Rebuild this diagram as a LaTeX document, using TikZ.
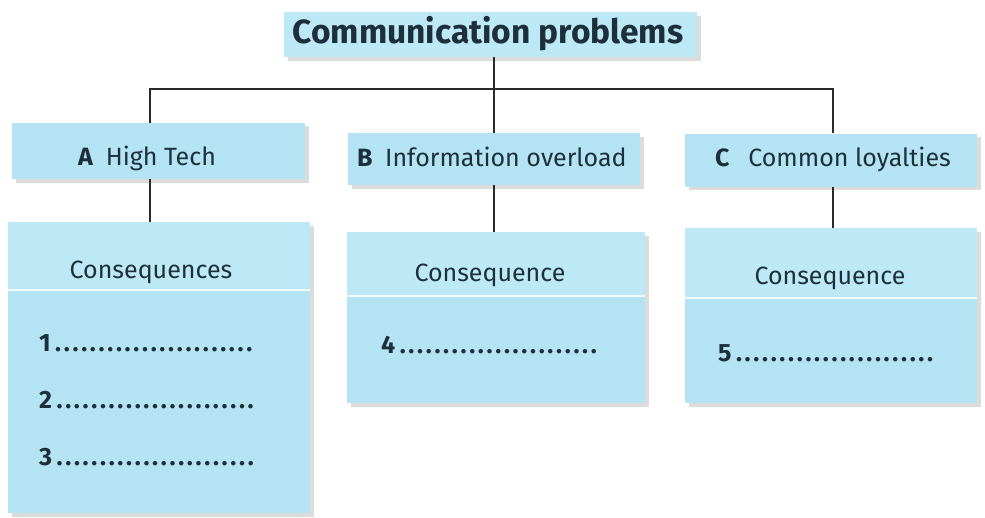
\documentclass[tikz,border=0pt]{standalone}
\usepackage{fontspec}
\setmainfont{Fira Sans}
\begin{document}
\definecolor{boxfill}{HTML}{B4E4F3}
\definecolor{headfill}{HTML}{BDE9F7}
\definecolor{ink}{HTML}{1E2F3C}
\definecolor{rule}{HTML}{2A2A2A}
\newcommand{\answerline}[1]{\textbf{#1}\hspace{3pt}\hbox to 200pt{\xleaders\hbox to 8.5pt{\hss\textbf{.}\hss}\hfill}}
\begin{tikzpicture}[x=1pt,y=-1pt,
  panel/.style={rectangle, fill=boxfill, inner sep=0pt},
  shade/.style={fill=black!30, opacity=0.45},
  lbl/.style={inner sep=0pt, text=ink, anchor=base, font=\fontsize{25}{28}\selectfont},
  conn/.style={draw=rule, line width=1.1pt}]
\useasboundingbox (0,0) rectangle (985,517);

% title
\fill[shade] (288,16) rectangle (701,61);
\node[panel, fill=headfill, minimum width=413pt, minimum height=45pt] (title) at (490.5,34.5) {};
\node[lbl, font=\fontsize{33.5}{38}\selectfont\bfseries] (titletxt) at (488,43) {Communication problems};

% problem boxes
\fill[shade] (16,126) rectangle (309,183);
\node[panel, minimum width=293pt, minimum height=56pt] (A) at (158.5,151) {};
\node[lbl, anchor=base west] (Atxt) at (78,165) {\textbf{A}\enspace High Tech};

\fill[shade] (352,137) rectangle (644,189);
\node[panel, minimum width=292pt, minimum height=52pt] (B) at (494,159) {};
\node[lbl, anchor=base west] (Btxt) at (357,166) {\textbf{B}\enspace Information overload};

\fill[shade] (689,137) rectangle (981,190);
\node[panel, minimum width=292pt, minimum height=53pt] (C) at (831,160) {};
\node[lbl, anchor=base west] (Ctxt) at (715,166) {\textbf{C}\hspace{0.75em}Common loyalties};

% consequence boxes
\fill[shade] (12,226) rectangle (314,517);
\node[panel, minimum width=302pt, minimum height=291pt] (cA) at (159,367.5) {};
\fill[headfill] (cA.north west) rectangle (310,290);
\draw[white, line width=1.5pt, opacity=0.8] (cA.west |- 0,290) -- (cA.east |- 0,290);
\node[lbl] (cAhead) at (151,278) {Consequences};
\node[lbl, anchor=base west] (a1) at (39,351) {\answerline{1}};
\node[lbl, anchor=base west] (a2) at (39,408) {\answerline{2}};
\node[lbl, anchor=base west] (a3) at (39,465) {\answerline{3}};

\fill[shade] (351,236) rectangle (649,407);
\node[panel, minimum width=298pt, minimum height=171pt] (cB) at (496,317.5) {};
\fill[headfill] (cB.north west) rectangle (645,296);
\draw[white, line width=1.5pt, opacity=0.8] (cB.west |- 0,296) -- (cB.east |- 0,296);
\node[lbl] (cBhead) at (490,281) {Consequence};
\node[lbl, anchor=base west] (a4) at (381,353) {\answerline{4}};

\fill[shade] (689,232) rectangle (981,407);
\node[panel, minimum width=292pt, minimum height=175pt] (cC) at (831,315.5) {};
\fill[headfill] (cC.north west) rectangle (977,298);
\draw[white, line width=1.5pt, opacity=0.8] (cC.west |- 0,298) -- (cC.east |- 0,298);
\node[lbl] (cChead) at (830,284) {Consequence};
\node[lbl, anchor=base west] (a5) at (718,361) {\answerline{5}};

% connectors
\coordinate (bar) at (494,89);
\coordinate (ja) at (150,0);
\coordinate (jc) at (833,0);
\draw[conn] (ja |- A.north) |- (bar) -| (jc |- C.north);
\draw[conn] (bar |- title.south) -- (B.north);
\draw[conn] (ja |- A.south) -- (ja |- cA.north);
\draw[conn] (B.south) -- (B.south |- cB.north);
\draw[conn] (jc |- C.south) -- (jc |- cC.north);
\end{tikzpicture}
\end{document}
